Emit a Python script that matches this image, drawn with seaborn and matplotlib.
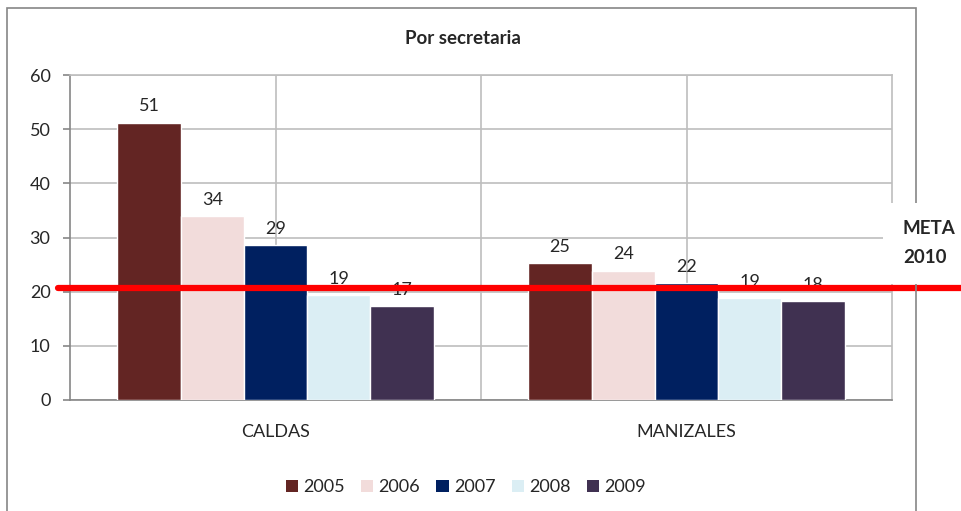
import numpy as np
import pandas as pd
import matplotlib
matplotlib.use('Agg')
import matplotlib.pyplot as plt
from matplotlib.patches import Rectangle, Patch
import seaborn as sns

# Data
categories = ['CALDAS', 'MANIZALES']
years = ['2005', '2006', '2007', '2008', '2009']
caldas = [51.2, 33.9, 28.6, 19.3, 17.3]
manizales = [25.3, 23.9, 21.6, 18.8, 18.2]
meta_2010 = 20.6
colors = ['#632523', '#F2DCDB', '#002060', '#DBEEF4', '#403151']

df = pd.DataFrame({
    'secretaria': [categories[0]] * len(years) + [categories[1]] * len(years),
    'anio': years + years,
    'valor': caldas + manizales,
})

sns.set_style('white')
plt.rcParams['font.family'] = ['Lato', 'DejaVu Sans']

W, H = 962, 511
fig = plt.figure(figsize=(W / 100, H / 100), dpi=100)

# outer chart frame
fig.patches.append(Rectangle((7.5 / W, -0.05), (916 - 7.5) / W, 1.05 - 8 / H,
                             transform=fig.transFigure, fill=False,
                             edgecolor='#868686', linewidth=1.2, zorder=0))

ax = fig.add_axes([70 / W, 1 - 400 / H, 822 / W, 325 / H])

sns.barplot(data=df, x='secretaria', y='valor', hue='anio', palette=colors,
            width=5 / 6.5, gap=0, saturation=1, ax=ax, legend=False, zorder=3)

ax.set_xlim(-0.5, 1.5)
ax.set_ylim(0, 60)
ax.set_yticks(np.arange(0, 61, 10))
ax.set_xlabel('')
ax.set_ylabel('')

# grid
ax.grid(axis='y', color='#BEBEBE', linewidth=1.2, zorder=0)
for xv in [0, 0.5, 1]:
    ax.axvline(xv, color='#BEBEBE', linewidth=1.2, zorder=0)
for s in ax.spines.values():
    s.set_color('#BEBEBE')
    s.set_linewidth(1.2)
ax.spines['left'].set_color('#868686')
ax.spines['bottom'].set_color('#868686')

ax.set_xticks([0, 1])
ax.set_xticklabels(categories)
ax.set_xticks([-0.5, 0.5, 1.5], minor=True)
ax.tick_params(axis='x', which='major', length=0, pad=17, labelsize=13)
ax.tick_params(axis='x', which='minor', length=5, color='#868686', width=1.2)
ax.tick_params(axis='y', length=5, color='#868686', width=1.2, pad=9, labelsize=13,
               left=True)

# data labels
for cont in ax.containers:
    ax.bar_label(cont, labels=[f'{v:.0f}' for v in cont.datavalues],
                 padding=6, fontsize=13)

# meta line
ax.axhline(meta_2010, xmin=(58 - 70) / 822, xmax=(962 - 70) / 822,
           color='#FF0000', linewidth=4.5, clip_on=False, zorder=6)

# white box behind label
fig.patches.append(Rectangle((883 / W, 1 - 284 / H), (962 - 883) / W, 81 / H,
                             transform=fig.transFigure, facecolor='white',
                             edgecolor='none', zorder=5))
fig.text(903 / W, 1 - 229 / H, 'META', fontsize=13.5, fontweight='bold',
         va='center', ha='left', zorder=7)
fig.text(903 / W, 1 - 257 / H, '2010', fontsize=13.5, fontweight='bold',
         va='center', ha='left', zorder=7)

fig.text(463 / W, 1 - 38 / H, 'Por secretaria', fontsize=13.5, fontweight='bold',
         ha='center', va='center')

handles = [Patch(facecolor=c, edgecolor='none') for c in colors]
fig.legend(handles, years, loc='center', bbox_to_anchor=(466 / W, 1 - 487 / H),
           ncol=5, frameon=False, fontsize=13, handlelength=0.67, handleheight=0.67,
           handletextpad=0.3, columnspacing=0.9)

fig.savefig('out.png', dpi=100)
